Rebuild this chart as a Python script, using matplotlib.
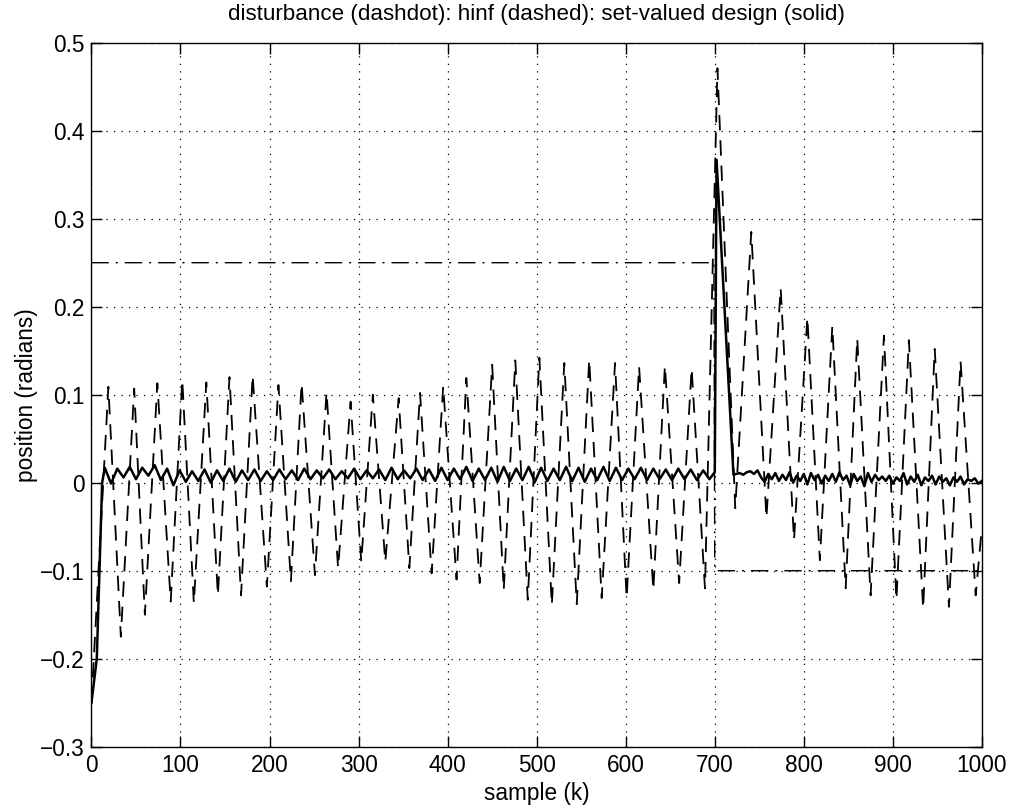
import numpy as np
import matplotlib
matplotlib.use("Agg")
import matplotlib.pyplot as plt

plt.rcParams['font.family'] = ['Liberation Sans', 'DejaVu Sans']

# disturbance (dashdot): step from 0.25 to -0.1 at k=700
dist_k = [0, 699, 700, 1000]
dist_v = [0.25, 0.25, -0.1, -0.1]

# hinf response (dashed): turning points
hinf_k = [0, 19, 33, 48, 60, 74, 89, 102, 115, 129, 142, 155, 168, 181, 197, 210,
          224, 236, 251, 264, 277, 291, 303, 316, 330, 345, 357, 369, 382, 395, 410,
          421, 436, 450, 463, 476, 490, 503, 517, 531, 545, 559, 573, 588, 601, 615,
          631, 644, 660, 674, 689, 703, 723, 741, 758, 774, 789, 804, 818, 832, 847,
          860, 875, 890, 904, 918, 934, 947, 963, 976, 993, 1000]
hinf_v = [-0.25, 0.109, -0.175, 0.107, -0.150, 0.113, -0.135, 0.117, -0.137, 0.114,
          -0.128, 0.120, -0.128, 0.122, -0.118, 0.111, -0.112, 0.113, -0.105, 0.103,
          -0.097, 0.092, -0.090, 0.100, -0.090, 0.096, -0.097, 0.102, -0.103, 0.109,
          -0.110, 0.119, -0.114, 0.134, -0.122, 0.139, -0.133, 0.142, -0.139, 0.136,
          -0.138, 0.140, -0.131, 0.136, -0.131, 0.132, -0.122, 0.133, -0.114, 0.130,
          -0.120, 0.471, -0.029, 0.285, -0.040, 0.221, -0.065, 0.188, -0.088, 0.178,
          -0.120, 0.164, -0.128, 0.167, -0.133, 0.162, -0.143, 0.152, -0.141, 0.138,
          -0.128, -0.050]

# set-valued design (solid)
sv_start_k = [0, 6, 12]
sv_start_v = [-0.25, -0.2, 0.0]
# every 7 samples from k=15
sv_pre = [0.017, -0.001, 0.016, 0.006, 0.018, 0.004, 0.017, 0.008, 0.020, 0.003,
          0.016, -0.003, 0.014, 0.001, 0.013, 0.002, 0.015, 0.000, 0.014, 0.002,
          0.016, 0.001, 0.014, 0.003, 0.015, 0.002, 0.013, 0.003, 0.015, 0.004,
          0.014, 0.003, 0.016, 0.004, 0.014, 0.005, 0.015, 0.004, 0.013, 0.005,
          0.016, 0.004, 0.014, 0.005, 0.015, 0.003, 0.017, 0.004, 0.014, 0.005,
          0.016, 0.003, 0.015, 0.002, 0.017, 0.003, 0.016, 0.004, 0.018, 0.002,
          0.016, 0.003, 0.017, 0.001, 0.018, 0.002, 0.016, 0.003, 0.018, 0.001,
          0.017, 0.002, 0.016, 0.003, 0.018, 0.002, 0.017, 0.001, 0.016, 0.003,
          0.018, 0.002, 0.017, 0.003, 0.016, 0.004, 0.017, 0.003, 0.016, 0.004,
          0.015, 0.003, 0.016, 0.004, 0.015, 0.003, 0.014, 0.004]
sv_spike_k = [700, 702, 721]
sv_spike_v = [0.012, 0.367, 0.009]
# every 4 samples from k=724
sv_post = [0.010, 0.011, 0.009, 0.012, 0.013, 0.010, 0.014, 0.006, 0.001, 0.010,
           0.004, 0.011, 0.002, 0.009, 0.003, 0.012, 0.000, 0.008, 0.002, 0.010,
           -0.002, 0.011, 0.003, 0.009, -0.001, 0.008, 0.002, 0.010, 0.001, 0.012,
           0.003, 0.008, -0.003, 0.010, 0.002, 0.007, -0.004, 0.011, 0.001, 0.009,
           0.003, 0.007, 0.002, 0.008, -0.001, 0.006, 0.002, 0.011, -0.002, 0.007,
           0.001, 0.009, -0.003, 0.006, 0.002, 0.008, -0.002, 0.007, 0.001, 0.005,
           -0.003, 0.006, 0.001, 0.007, -0.002, 0.004, 0.002, 0.005, -0.001, 0.002]

x_ticks = list(range(0, 1001, 100))
y_ticks = [-0.3, -0.2, -0.1, 0, 0.1, 0.2, 0.3, 0.4, 0.5]
y_tick_labels = ['\u22120.3', '\u22120.2', '\u22120.1', '0', '0.1', '0.2', '0.3', '0.4', '0.5']

sv_k = np.concatenate([sv_start_k, 15 + 7 * np.arange(len(sv_pre)), sv_spike_k,
                       724 + 4 * np.arange(len(sv_post))])
sv_v = np.concatenate([sv_start_v, sv_pre, sv_spike_v, sv_post])

fig = plt.figure(figsize=(10.15, 8.07), dpi=100)
ax = fig.add_axes([0.0901, 0.0747, 0.8773, 0.8724])

ax.plot(dist_k, dist_v, color='k', lw=1.0, linestyle=(0, (12.5, 5, 1.5, 5)))
ax.plot(hinf_k, hinf_v, color='k', lw=1.3, linestyle=(0, (8.5, 5.5)))
ax.plot(sv_k, sv_v, color='k', lw=1.8)

ax.set_xlim(0, 1000)
ax.set_ylim(-0.3, 0.5)
ax.set_xticks(x_ticks)
ax.set_yticks(y_ticks)
ax.set_yticklabels(y_tick_labels)
ax.grid(True, color='k', linestyle=(0, (1, 5)), lw=0.9)
ax.tick_params(direction='in', length=8, width=1, top=True, right=True,
               labelsize=16.3, colors='k', pad=5)
for s in ax.spines.values():
    s.set_linewidth(1.0)

ax.set_xlabel('sample (k)', fontsize=16.3, labelpad=4)
ax.set_ylabel('position (radians)', fontsize=16.3, labelpad=1)
ax.set_title('disturbance (dashdot): hinf (dashed): set-valued design (solid)',
             fontsize=16.1, pad=16)

fig.savefig('out.png', dpi=100)
